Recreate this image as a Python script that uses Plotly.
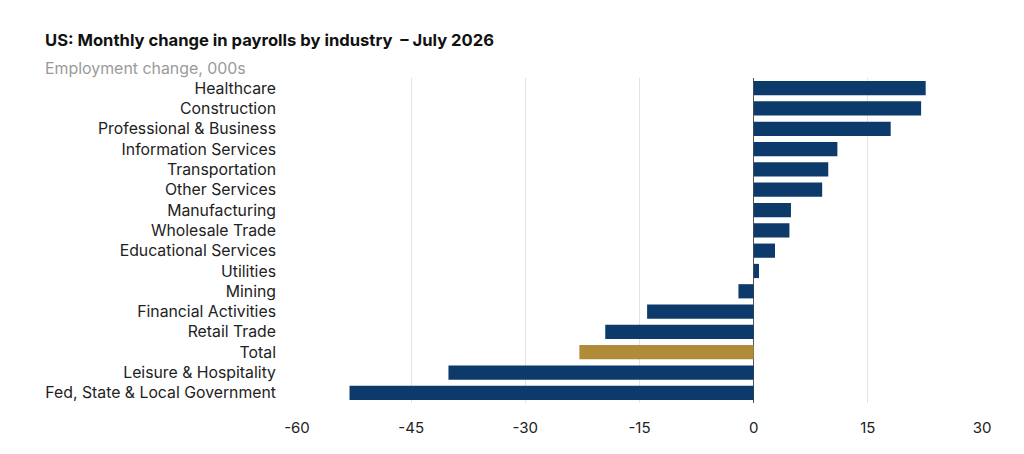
import plotly.graph_objects as go

categories = ["Healthcare", "Construction", "Professional & Business", "Information Services",
              "Transportation", "Other Services", "Manufacturing", "Wholesale Trade",
              "Educational Services", "Utilities", "Mining", "Financial Activities",
              "Retail Trade", "Total", "Leisure & Hospitality", "Fed, State & Local Government"]
values = [22.6, 22.0, 18.0, 11.0, 9.8, 9.0, 4.9, 4.7, 2.8, 0.7, -2.0, -14.0, -19.5, -22.9, -40.1, -53.1]
tick_vals = [-60, -45, -30, -15, 0, 15, 30]

NAVY = "#0b3a6b"
GOLD = "#b08c38"
colors = [GOLD if c == "Total" else NAVY for c in categories]

W, H = 1008, 438
L, T, PW, PH = 289, 70, 685, 325

fig = go.Figure(go.Bar(
    x=values, y=categories, orientation="h",
    marker=dict(color=colors, line=dict(width=0)),
    hoverinfo="x+y",
))

fig.update_layout(
    width=W, height=H, autosize=False,
    paper_bgcolor="white", plot_bgcolor="white",
    margin=dict(l=L, r=W - L - PW, t=T, b=H - T - PH, pad=0, autoexpand=False),
    bargap=0.3,
    showlegend=False,
    font=dict(family="Inter, Lato, sans-serif", color="#1a1a1a"),
    annotations=[
        dict(text="<b>US: Monthly change in payrolls by industry  – July 2026</b>",
             xref="paper", yref="paper", x=(35 - L) / PW, y=1 + (T - 32) / PH,
             xanchor="left", yanchor="middle", showarrow=False,
             font=dict(size=16.6, color="#111111", family="Inter, Lato, sans-serif")),
        dict(text="Employment change, 000s",
             xref="paper", yref="paper", x=(35 - L) / PW, y=1 + (T - 60) / PH,
             xanchor="left", yanchor="middle", showarrow=False,
             font=dict(size=15.9, color="#9a9a9a", family="Inter, Lato, sans-serif")),
    ],
)

fig.update_xaxes(
    range=[-60, 30], tickvals=tick_vals, ticktext=[str(v) for v in tick_vals],
    showgrid=True, gridcolor="#e3e3e3", gridwidth=1,
    zeroline=True, zerolinecolor="#555555", zerolinewidth=1,
    showline=False, ticks="", ticklabelstandoff=14, automargin=False,
    tickfont=dict(size=15, color="#222222"),
)
fig.update_yaxes(
    autorange="reversed", showgrid=False, showline=False, ticks="",
    ticklabelstandoff=20, automargin=False,
    tickfont=dict(size=15.8, color="#222222"),
)

fig.write_html("out.html")
